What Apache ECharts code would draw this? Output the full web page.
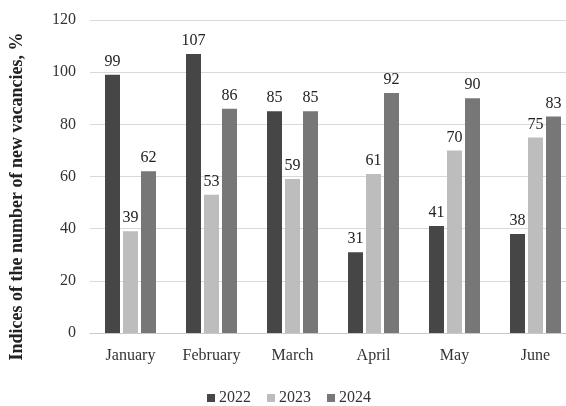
<!DOCTYPE html>
<html>
<head>
<meta charset="utf-8">
<script src="https://cdn.jsdelivr.net/npm/echarts@6/dist/echarts.min.js"></script>
<style>
  html, body { margin: 0; padding: 0; background: #ffffff; overflow: hidden; }
  /* the plot runs slightly past the right edge of the window */
  #chart { width: 576px; height: 406px; }
</style>
</head>
<body>
<div id="chart"></div>
<script>
// Monthly indices of new vacancies, by year
const months = ['January', 'February', 'March', 'April', 'May', 'June'];
const years = ['2022', '2023', '2024'];
const values2022 = [99, 107, 85, 31, 41, 38];
const values2023 = [39, 53, 59, 61, 70, 75];
const values2024 = [62, 86, 85, 92, 90, 83];
const yTicks = [0, 20, 40, 60, 80, 100, 120];

const seriesValues = [values2022, values2023, values2024];
const colors = ['#464646', '#bdbdbd', '#777777'];
const serif = '"Liberation Serif", "Times New Roman", serif';

const chart = echarts.init(document.getElementById('chart'), null, { renderer: 'canvas' });

chart.setOption({
  animation: false,
  textStyle: { fontFamily: serif },
  grid: { left: 90, top: 20, bottom: 73, right: 0 },
  legend: {
    data: years,
    left: 202,
    top: 385,
    itemWidth: 8,
    itemHeight: 8,
    itemGap: 16,
    icon: 'rect',
    textStyle: { fontFamily: serif, fontSize: 16, color: '#333333', padding: [0, 0, 0, -1] }
  },
  xAxis: {
    type: 'category',
    data: months,
    axisTick: { show: false },
    axisLine: { lineStyle: { color: '#c8c8c8', width: 1 } },
    axisLabel: { fontFamily: serif, fontSize: 16, color: '#333333', margin: 15 }
  },
  yAxis: {
    type: 'value',
    min: yTicks[0],
    max: yTicks[yTicks.length - 1],
    interval: yTicks[1] - yTicks[0],
    name: 'Indices of the number of new vacancies, %',
    nameLocation: 'middle',
    nameGap: 64,
    nameTextStyle: { fontFamily: serif, fontSize: 18, fontWeight: 'bold', color: '#222222', padding: [0, 40, 0, 0] },
    axisLine: { show: false },
    axisTick: { show: false },
    splitLine: { lineStyle: { color: '#d9d9d9', width: 1 } },
    axisLabel: { fontFamily: serif, fontSize: 16, color: '#333333', margin: 14 }
  },
  series: years.map((y, i) => ({
    name: y,
    type: 'bar',
    data: seriesValues[i],
    barWidth: 15,
    barGap: '20%',
    itemStyle: { color: colors[i] },
    label: {
      show: true,
      position: 'top',
      distance: 5,
      fontFamily: serif,
      fontSize: 16,
      color: '#222222'
    }
  }))
});
</script>
</body>
</html>
